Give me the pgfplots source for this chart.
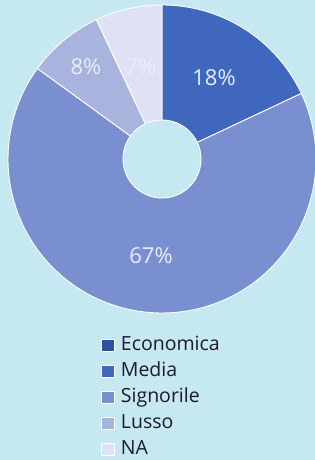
\documentclass[border=0pt]{standalone}
\usepackage{pgfplots}
\pgfplotsset{compat=1.18}
\usepackage{fontspec}
\setmainfont{Open Sans}
\definecolor{bg}{RGB}{198,232,241}
\definecolor{cEco}{RGB}{46,82,160}
\definecolor{cMed}{RGB}{63,103,189}
\definecolor{cSig}{RGB}{122,143,208}
\definecolor{cLus}{RGB}{169,180,222}
\definecolor{cNA}{RGB}{223,226,242}
\definecolor{lbl}{RGB}{232,238,249}
\definecolor{txt}{RGB}{28,28,40}
\begin{document}
\begin{tikzpicture}
\fill[bg] (0,0) rectangle (315pt,460pt);
\useasboundingbox (0,0) rectangle (315pt,460pt);
\begin{axis}[at={(0,0)}, anchor=south west, x=1pt, y=1pt,
  xmin=0, xmax=315, ymin=0, ymax=460, hide axis, clip=false, scale only axis,
  legend style={at={(0.3206,0.2717)}, anchor=north west, draw=none, fill=none,
    inner sep=0pt, font={\fontsize{19.5}{23}\selectfont\color{txt}},
    nodes={inner sep=1pt, text height=14pt, text depth=4pt}, row sep=6pt},
  legend cell align=left,
  legend image code/.code={\draw[#1, line width=0.6pt] (0pt,-6pt) rectangle (13pt,6pt); \path (18pt,0pt);}]
\addlegendimage{fill=cEco, draw=white}
% Media 18%
\addplot[fill=cMed, draw=white, line width=0.9pt, domain={90-3.6*18}:90, samples=60, variable=\t]
  ({162+154*cos(t)},{301+154*sin(t)}) -- (axis cs:162,301) -- cycle;
% Signorile 67%
\addplot[fill=cSig, draw=white, line width=0.9pt, domain={90-3.6*(18+67)}:{90-3.6*18}, samples=150, variable=\t]
  ({162+154*cos(t)},{301+154*sin(t)}) -- (axis cs:162,301) -- cycle;
% Lusso 8%
\addplot[fill=cLus, draw=white, line width=0.9pt, domain={90-3.6*(18+67+8)}:{90-3.6*(18+67)}, samples=30, variable=\t]
  ({162+154*cos(t)},{301+154*sin(t)}) -- (axis cs:162,301) -- cycle;
% NA 7%
\addplot[fill=cNA, draw=white, line width=0.9pt, domain={90-3.6*(18+67+8+7)}:{90-3.6*(18+67+8)}, samples=30, variable=\t]
  ({162+154*cos(t)},{301+154*sin(t)}) -- (axis cs:162,301) -- cycle;
% hole
\addplot[fill=bg, draw=white, line width=0.9pt, domain=0:360, samples=120, forget plot]
  ({162+39*cos(x)},{301+39*sin(x)}) -- cycle;
\legend{Economica, Media, Signorile, Lusso, NA}
\node[text=lbl, font=\fontsize{22}{26}\selectfont] at (axis cs:214,382) {18\%};
\node[text=lbl, font=\fontsize{22}{26}\selectfont] at (axis cs:151,204) {67\%};
\node[text=lbl, font=\fontsize{22}{26}\selectfont] at (axis cs:86,393) {8\%};
\node[text=lbl, font=\fontsize{22}{26}\selectfont] at (axis cs:141,393) {7\%};
\end{axis}
\end{tikzpicture}
\end{document}
